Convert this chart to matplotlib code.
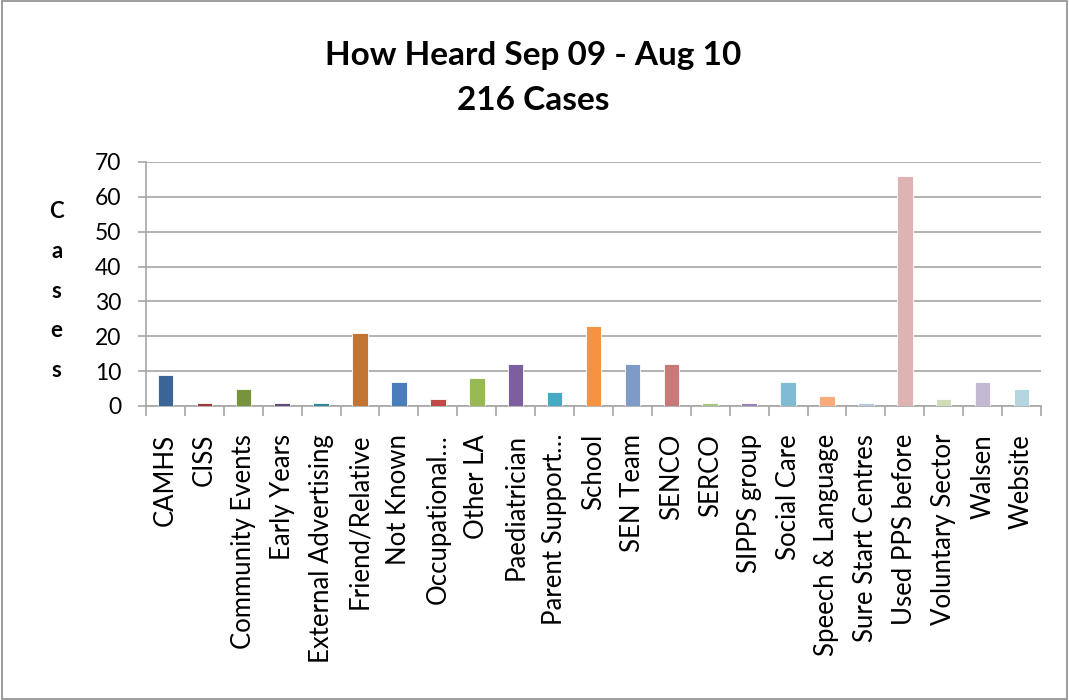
import matplotlib
matplotlib.use("Agg")
import matplotlib.pyplot as plt
import numpy as np

categories = ["CAMHS", "CISS", "Community Events", "Early Years", "External Advertising",
              "Friend/Relative", "Not Known", "Occupational…", "Other LA", "Paediatrician",
              "Parent Support…", "School", "SEN Team", "SENCO", "SERCO", "SIPPS group",
              "Social Care", "Speech & Language", "Sure Start Centres", "Used PPS before",
              "Voluntary Sector", "Walsen", "Website"]
cases = [9, 1, 5, 1, 1, 21, 7, 2, 8, 12, 4, 23, 12, 12, 1, 1, 7, 3, 1, 66, 2, 7, 5]
colors = ["#3A6596", "#A0373A", "#77933C", "#5F4A7A", "#31859C", "#C47432",
          "#4A7EBB", "#BE4B48", "#98B954", "#7D5FA0", "#46AAC5", "#F69240",
          "#7E9BC8", "#C97A78", "#A9C47F", "#9985B5", "#7FBCD3", "#F9AB7A",
          "#B6C7E0", "#DDB4B3", "#CFDCB8", "#C3B9D2", "#B5D6E1"]
yticks = [0, 10, 20, 30, 40, 50, 60, 70]

plt.rcParams['font.family'] = ['Lato', 'DejaVu Sans']

fig = plt.figure(figsize=(10.69, 7.0), dpi=100)
fig.patch.set_facecolor("white")
# outer border
fig.add_artist(plt.Rectangle((0.002, 0.002), 0.996, 0.996, transform=fig.transFigure,
                             fill=False, edgecolor="#8C8C8C", linewidth=1.2))

ax = fig.add_axes([0.1366, 0.42, 0.8372, 0.3486])
x = np.arange(len(categories))
ax.bar(x, cases, width=0.4, color=colors, edgecolor="white", linewidth=0.6, zorder=3)

ax.set_xlim(-0.5, len(categories) - 0.5)
ax.set_ylim(0, 70)
ax.set_yticks(yticks)
ax.set_yticklabels([str(v) for v in yticks], fontsize=16.5)
ax.yaxis.grid(True, color="#A6A6A6", linewidth=1.2, zorder=0)
ax.tick_params(axis="y", length=6, color="#A6A6A6", width=1.2, pad=12)

ax.set_xticks(x)
ax.set_xticklabels(categories, rotation=90, fontsize=18.5)
ax.tick_params(axis="x", which="major", length=0, pad=20)
ax.set_xticks(np.arange(-0.5, len(categories), 1.0), minor=True)
ax.tick_params(axis="x", which="minor", length=7, color="#A6A6A6", width=1.2)

for s in ["top", "right"]:
    ax.spines[s].set_visible(False)
for s in ["left", "bottom"]:
    ax.spines[s].set_color("#A6A6A6")
    ax.spines[s].set_linewidth(1.2)

fig.text(0.4985, 0.921, "How Heard Sep 09 - Aug 10", ha="center", va="center",
         fontsize=24, fontweight="bold")
fig.text(0.4985, 0.857, "216 Cases", ha="center", va="center",
         fontsize=24, fontweight="bold")
fig.text(0.053, 0.584, "C\na\ns\ne\ns", ha="center", va="center",
         fontsize=16, fontweight="bold", linespacing=2.1)

fig.savefig("out.png", dpi=100, facecolor="white")
